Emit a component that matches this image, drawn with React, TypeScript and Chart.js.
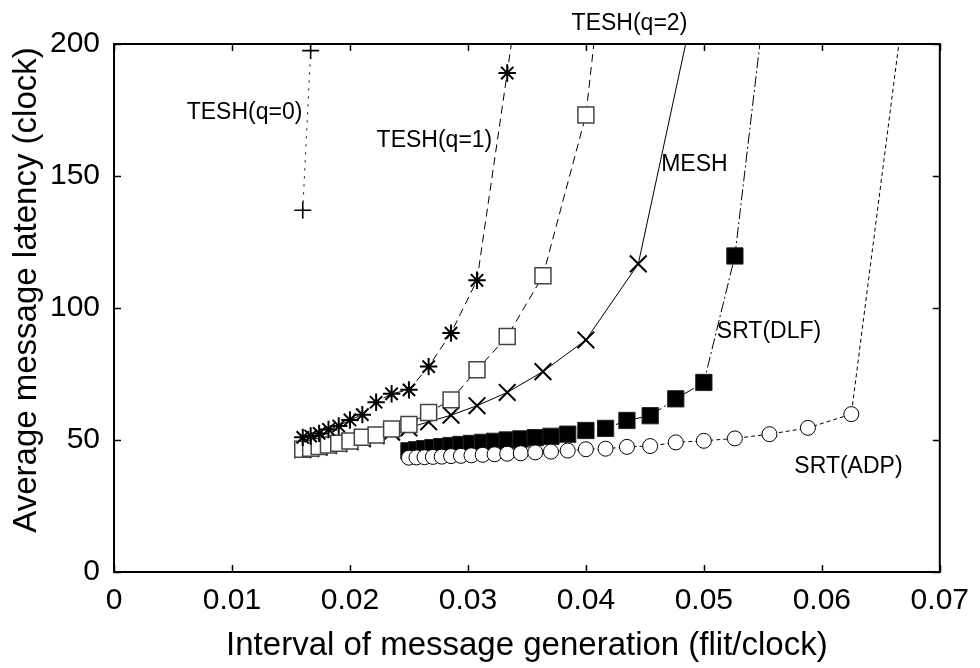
import React, { useEffect, useRef } from 'react';
import { Chart, registerables } from 'chart.js';

Chart.register(...registerables);

// ---- data ----
const TESH0_X = [0.016, 0.01667];
const TESH0_Y = [137, 197.5];

const TESH1_X = [0.016, 0.01667, 0.01739, 0.01818, 0.01905, 0.02, 0.02105, 0.02222, 0.02353, 0.025, 0.02667, 0.02857, 0.03077, 0.03333, 0.03636];
const TESH1_Y = [51.0, 51.5, 52.5, 54.0, 55.3, 57.6, 59.6, 64.3, 67.5, 69.0, 77.8, 90.5, 110.5, 189, 285];

const TESH2_X = [0.016, 0.01667, 0.01739, 0.01818, 0.01905, 0.02, 0.02105, 0.02222, 0.02353, 0.025, 0.02667, 0.02857, 0.03077, 0.03333, 0.03636, 0.04, 0.04444];
const TESH2_Y = [46.5, 46.9, 47.5, 48.1, 48.8, 49.6, 51.0, 51.9, 54.2, 55.9, 60.4, 65.2, 76.6, 89.2, 112.2, 173.1, 350];

const MESH_X = [0.016, 0.01667, 0.01739, 0.01818, 0.01905, 0.02, 0.02105, 0.02222, 0.02353, 0.025, 0.02667, 0.02857, 0.03077, 0.03333, 0.03636, 0.04, 0.04444, 0.05];
const MESH_Y = [46.3, 46.7, 47.3, 47.9, 48.6, 49.4, 50.5, 51.6, 53.0, 54.6, 56.9, 59.4, 63.0, 68.0, 75.9, 87.9, 116.7, 232];

const DLF_X = [0.025, 0.02564, 0.02632, 0.02703, 0.02778, 0.02857, 0.02941, 0.0303, 0.03125, 0.03226, 0.03333, 0.03448, 0.03571, 0.03704, 0.03846, 0.04, 0.04167, 0.04348, 0.04545, 0.04762, 0.05, 0.05263, 0.05556];
const DLF_Y = [45.9, 46.3, 46.7, 47.1, 47.5, 47.9, 48.3, 48.7, 49.1, 49.5, 50.0, 50.4, 50.9, 51.4, 52.2, 53.6, 54.4, 57.4, 59.2, 65.6, 71.8, 119.7, 231];

const ADP_X = [0.025, 0.02564, 0.02632, 0.02703, 0.02778, 0.02857, 0.02941, 0.0303, 0.03125, 0.03226, 0.03333, 0.03448, 0.03571, 0.03704, 0.03846, 0.04, 0.04167, 0.04348, 0.04545, 0.04762, 0.05, 0.05263, 0.05556, 0.05882, 0.0625, 0.06667];
const ADP_Y = [43.3, 43.4, 43.5, 43.6, 43.7, 43.9, 44.0, 44.2, 44.4, 44.6, 44.8, 45.0, 45.3, 45.6, 46.0, 46.5, 46.7, 47.4, 47.7, 49.1, 49.7, 50.6, 52.2, 54.6, 59.8, 205];

const X_TICK_LABELS = ['0', '0.01', '0.02', '0.03', '0.04', '0.05', '0.06', '0.07'];
const Y_TICK_LABELS = ['0', '50', '100', '150', '200'];

const X_TITLE = 'Interval of message generation (flit/clock)';
const Y_TITLE = 'Average message latency (clock)';

// curve annotations (left edge / baseline, in data units)
const LABEL_TEXT = ['TESH(q=0)', 'TESH(q=1)', 'TESH(q=2)', 'MESH', 'SRT(DLF)', 'SRT(ADP)'];
const LABEL_X = [0.00616, 0.02226, 0.03879, 0.04638, 0.0511, 0.05767];
const LABEL_Y = [171.5, 161.1, 205.3, 152.0, 88.8, 37.5];

const FONT = '"Liberation Sans", Arial, Helvetica, sans-serif';

export default function App() {
  const ref = useRef<HTMLCanvasElement | null>(null);

  useEffect(() => {
    document.body.style.margin = '0';
    const canvas = ref.current;
    if (!canvas) return;
    const pts = (xs: number[], ys: number[]) => xs.map((x, i) => ({ x, y: ys[i] }));

    const framePlugin = {
      id: 'frameAndText',
      afterDraw(chart: any) {
        const { ctx, chartArea: a, scales } = chart;
        const xs = scales.x;
        const ys = scales.y;
        const TL = 7;
        ctx.save();
        ctx.strokeStyle = '#000';
        ctx.lineWidth = 1.5;
        ctx.setLineDash([]);
        ctx.beginPath();
        xs.ticks.forEach((t: any) => {
          const p = Math.round(xs.getPixelForValue(t.value)) + 0.5;
          ctx.moveTo(p, a.bottom);
          ctx.lineTo(p, a.bottom - TL);
          ctx.moveTo(p, a.top);
          ctx.lineTo(p, a.top + TL);
        });
        ys.ticks.forEach((t: any) => {
          const p = Math.round(ys.getPixelForValue(t.value)) + 0.5;
          ctx.moveTo(a.left, p);
          ctx.lineTo(a.left + TL, p);
          ctx.moveTo(a.right, p);
          ctx.lineTo(a.right - TL, p);
        });
        ctx.stroke();
        ctx.lineWidth = 2;
        ctx.strokeRect(a.left, a.top, a.right - a.left, a.bottom - a.top);

        ctx.fillStyle = '#000';
        ctx.font = `23px ${FONT}`;
        ctx.textAlign = 'left';
        ctx.textBaseline = 'alphabetic';
        LABEL_TEXT.forEach((t, i) => {
          ctx.fillText(t, xs.getPixelForValue(LABEL_X[i]), ys.getPixelForValue(LABEL_Y[i]));
        });

        ctx.font = `33px ${FONT}`;
        ctx.translate(27, 290);
        ctx.rotate(-Math.PI / 2);
        ctx.textAlign = 'center';
        ctx.textBaseline = 'middle';
        ctx.fillText(Y_TITLE, 0, 0);
        ctx.restore();
      },
    };

    const base = {
      borderColor: '#000',
      borderWidth: 1,
      tension: 0,
      fill: false,
      pointBorderColor: '#000',
    };

    const chart = new Chart(canvas, {
      type: 'line',
      data: {
        datasets: [
          {
            ...base,
            label: 'TESH(q=0)',
            data: pts(TESH0_X, TESH0_Y),
            borderDash: [2, 6],
            pointStyle: 'cross',
            pointRadius: 8.5,
            pointBorderWidth: 1.6,
            pointBackgroundColor: '#000',
          },
          {
            ...base,
            label: 'TESH(q=1)',
            data: pts(TESH1_X, TESH1_Y),
            borderDash: [8, 5],
            pointStyle: 'star',
            pointRadius: 8.7,
            pointBorderWidth: 2,
            pointBackgroundColor: '#000',
          },
          {
            ...base,
            label: 'TESH(q=2)',
            data: pts(TESH2_X, TESH2_Y),
            borderDash: [8, 5],
            pointStyle: 'rect',
            pointRadius: 11.3,
            pointBorderWidth: 1.5,
            pointBorderColor: '#444',
            pointBackgroundColor: '#fff',
          },
          {
            ...base,
            label: 'MESH',
            data: pts(MESH_X, MESH_Y),
            pointStyle: 'crossRot',
            pointRadius: 11.8,
            pointBorderWidth: 2,
            pointBackgroundColor: '#000',
          },
          {
            ...base,
            label: 'SRT(ADP)',
            data: pts(ADP_X, ADP_Y),
            borderDash: [4, 3],
            pointStyle: 'circle',
            pointRadius: 7.5,
            pointBorderWidth: 1,
            pointBackgroundColor: '#fff',
          },
          {
            ...base,
            label: 'SRT(DLF)',
            data: pts(DLF_X, DLF_Y),
            borderDash: [11, 3, 2, 3],
            pointStyle: 'rect',
            pointRadius: 11.5,
            pointBorderWidth: 1,
            pointBorderColor: '#222',
            pointBackgroundColor: '#000',
          },
        ],
      },
      options: {
        animation: false,
        responsive: false,
        maintainAspectRatio: false,
        devicePixelRatio: 1,
        layout: { padding: { left: 0, right: 36, top: 44, bottom: 0 } },
        plugins: {
          legend: { display: false },
          tooltip: { enabled: false },
        },
        scales: {
          x: {
            type: 'linear',
            min: 0,
            max: 0.07,
            grid: { display: false, drawTicks: false },
            border: { display: false },
            afterFit: (s: any) => {
              s.height = 96;
            },
            ticks: {
              stepSize: 0.01,
              padding: 11,
              color: '#000',
              font: { family: FONT, size: 30 },
              maxRotation: 0,
              autoSkip: false,
              callback: (_v: any, i: number) => X_TICK_LABELS[i],
            },
            title: {
              display: true,
              text: X_TITLE,
              color: '#000',
              font: { family: FONT, size: 33 },
              padding: { top: 0, bottom: 2 },
            },
          },
          y: {
            type: 'linear',
            min: 0,
            max: 200,
            grid: { display: false, drawTicks: false },
            border: { display: false },
            afterFit: (s: any) => {
              s.width = 114;
            },
            ticks: {
              stepSize: 50,
              padding: 14,
              color: '#000',
              font: { family: FONT, size: 30 },
              autoSkip: false,
              callback: (_v: any, i: number) => Y_TICK_LABELS[i],
            },
          },
        },
      },
      plugins: [framePlugin],
    } as any);

    return () => chart.destroy();
  }, []);

  return (
    <div style={{ width: 980, height: 668, position: 'relative', background: '#fff' }}>
      <canvas ref={ref} width={980} height={668} style={{ display: 'block' }} />
    </div>
  );
}
